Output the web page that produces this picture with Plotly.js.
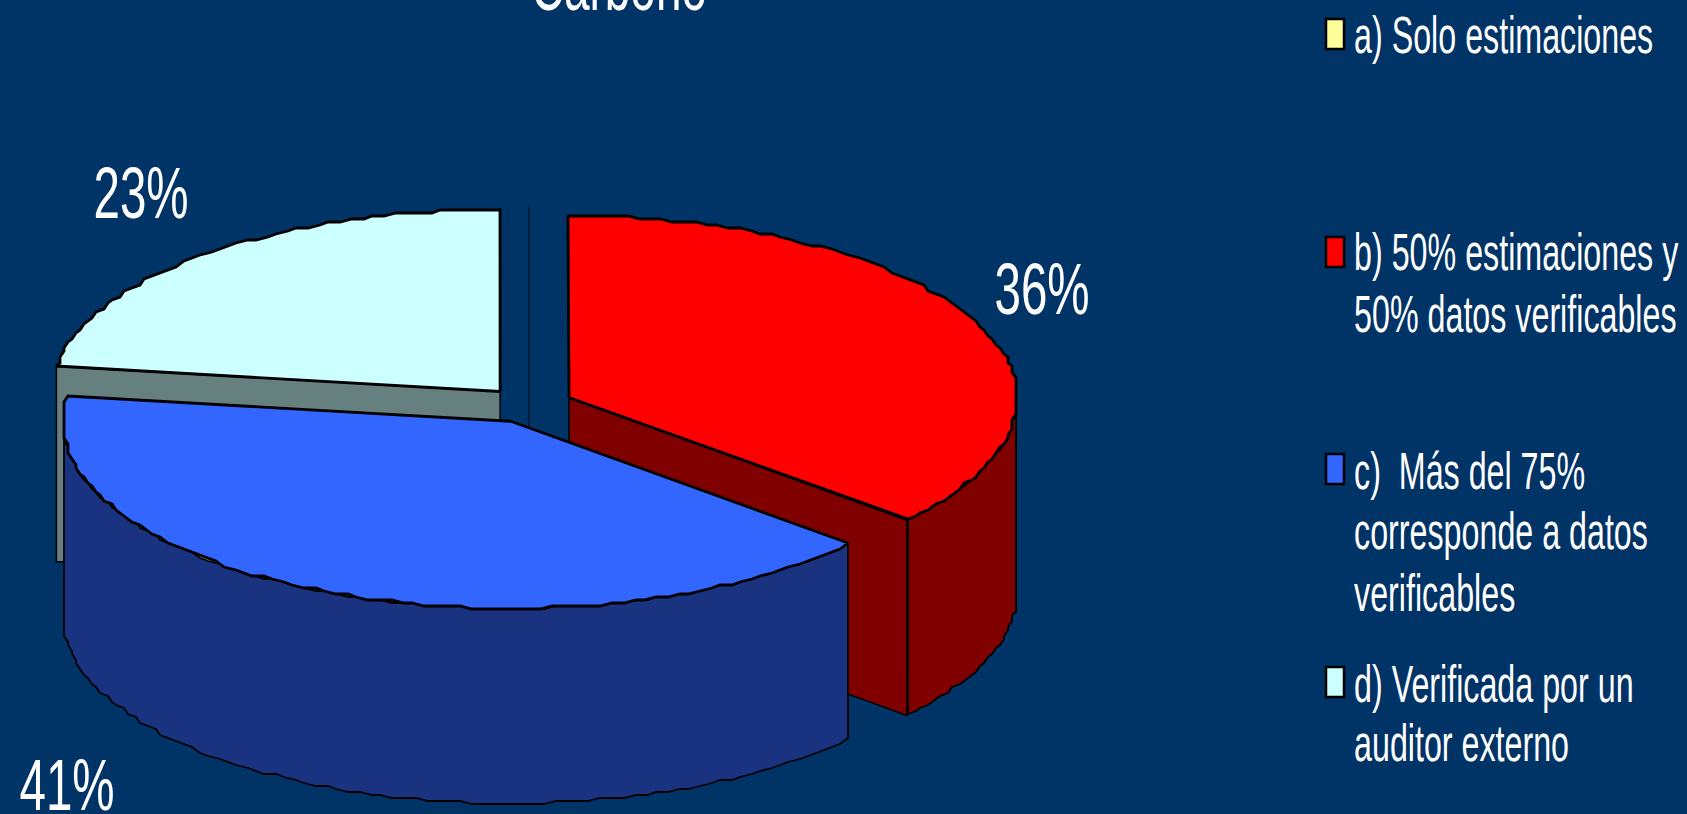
<!DOCTYPE html>
<html><head><meta charset="utf-8">
<script src="https://cdn.plot.ly/plotly-3.0.1.min.js"></script>
<style>html,body{margin:0;padding:0;background:#003366;overflow:hidden}#c{width:1687px;height:814px}</style>
</head><body><div id="c"></div>
<script>
// --- data ---
const categories = ['a) Solo estimaciones','b) 50% estimaciones y 50% datos verificables','c)  Más del 75% corresponde a datos verificables','d) Verificada por un auditor externo'];
const values = [0, 36.4, 40.8, 22.8];
const topColors = ['#FFFF99','#FF0000','#3366FF','#CCFFFF'];
const wallColors = ['#808050','#800000','#193380','#668080'];
const legendLines = [['a) Solo estimaciones'],['b) 50% estimaciones y','50% datos verificables'],['c)  Más del 75%','corresponde a datos','verificables'],['d) Verificada por un','auditor externo']];
const titleText = 'Carbono';

// --- geometry of the pseudo-3D projection ---
const CX=529, CY=405, RX=448, RY_BACK=182, RY_FRONT=187, DEPTH=195, EXPLODE=44;
const total = values.reduce((a,b)=>a+b,0);
let acc=0;
const slices = values.map((v,i)=>{
  const a0=acc/total*360; acc+=v; const a1=acc/total*360; const mid=(a0+a1)/2*Math.PI/180;
  return {i,a0,a1,cx:CX+EXPLODE*Math.sin(mid),cy:CY-EXPLODE*RY_BACK/RX*Math.cos(mid)};
});
const pt=(s,deg,dz=0)=>{const r=deg*Math.PI/180,c=Math.cos(r);return [s.cx+RX*Math.sin(r),s.cy-(c>0?RY_BACK:RY_FRONT)*c+dz];};
const arc=(s,a,b,dz=0)=>{const out=[],n=Math.max(1,Math.ceil(Math.abs(b-a)/1.5));for(let k=0;k<=n;k++){const p=pt(s,a+(b-a)*k/n,dz);out.push([Math.round(p[0]/4)*4,Math.round(p[1]/3)*3]);}return out;};
const poly=(pts,fill,w,name)=>({type:'scatter',mode:'lines',x:pts.map(p=>p[0]),y:pts.map(p=>p[1]),fill:'toself',fillcolor:fill,line:{color:'#000',width:w,shape:'linear'},hoverinfo:'skip',showlegend:false,name});
const apex=(s,dz=0)=>[s.cx,s.cy+dz];
const topFace=s=>[apex(s),...arc(s,s.a0,s.a1),apex(s)];
const cutFace=(s,deg)=>[apex(s),pt(s,deg),pt(s,deg,DEPTH),apex(s,DEPTH),apex(s)];
const wall=(s,a,b)=>{const t=arc(s,a,b),u=arc(s,b,a,DEPTH);return [...t,...u,t[0]];};
const [sa,sb,sc,sd]=slices;
const traces=[
  {type:'scatter',mode:'lines',x:[pt(sa,0)[0],apex(sa,DEPTH)[0]],y:[pt(sa,0)[1],apex(sa,DEPTH)[1]],line:{color:'#001a33',width:1.5},hoverinfo:'skip',showlegend:false,name:categories[0]},
  poly(cutFace(sd,sd.a0),wallColors[3],1.5,categories[3]),
  poly(topFace(sd),topColors[3],2.8,categories[3]),
  poly(cutFace(sb,sb.a1),wallColors[1],1.5,categories[1]),
  poly(wall(sb,sb.a1,90),wallColors[1],1.8,categories[1]),
  poly(topFace(sb),topColors[1],2.8,categories[1]),
  poly(wall(sc,sc.a0,270),wallColors[2],1.8,categories[2]),
  poly(topFace(sc),topColors[2],2.8,categories[2])
];

// --- text layout ---
const STRETCH=0.62, PCT_STRETCH=0.66, LEG=52, PCT=72;
const legendBaselines=[[52],[269,331],[488,548,610],[701,760]];
const swatchTops=[19,237,454,667];
const percentPos=[null,[1042,313],[67,809],[141,217]];
const mk=(text,x,base,size,xanchor)=>({xref:'x',yref:'y',x,y:base-size*0.33,text,showarrow:false,xanchor,yanchor:'middle',borderpad:0,borderwidth:0,font:{family:'Liberation Sans, Arial, sans-serif',size,color:'#fff'}});
const titleAnn=Object.assign(mk(titleText,619,11,74,'center'),{y:26,yanchor:'bottom'});
const anns=[titleAnn];
values.forEach((v,i)=>{if(percentPos[i])anns.push(mk(Math.round(v)+'%',percentPos[i][0],percentPos[i][1],PCT,'center'));});
const legendFlat=legendLines.flat();
legendLines.forEach((ls,i)=>ls.forEach((t,j)=>anns.push(mk(t,1354,legendBaselines[i][j],LEG,'left'))));
const shapes=topColors.map((c,i)=>({type:'rect',xref:'x',yref:'y',x0:1326,x1:1344,y0:swatchTops[i],y1:swatchTops[i]+30,fillcolor:c,line:{color:'#000',width:2.5}}));

const layout={width:1687,height:814,margin:{l:0,r:0,t:0,b:0},paper_bgcolor:'#003366',plot_bgcolor:'#003366',showlegend:false,
  xaxis:{range:[0,1687],visible:false,fixedrange:true},yaxis:{range:[814,0],visible:false,fixedrange:true},annotations:anns,shapes};
Plotly.newPlot('c',traces,layout,{displayModeBar:false,staticPlot:true}).then(()=>{
  document.querySelectorAll('.annotation-text').forEach(t=>{
    const txt=t.textContent.replace(/\s+/g,' ');
    const left=legendFlat.some(l=>l.replace(/\s+/g,' ')===txt);
    const pct=/^\d+%$/.test(txt);
    t.style.transformBox='fill-box';
    t.style.transformOrigin=left?'left center':'center center';
    t.style.transform='scaleX('+(pct?PCT_STRETCH:STRETCH)+')';
  });
});
</script></body></html>
